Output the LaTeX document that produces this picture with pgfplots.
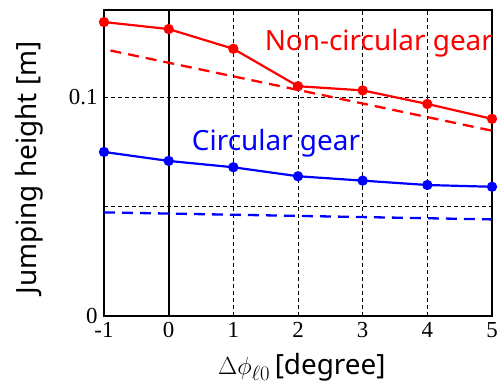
\documentclass[border=0pt]{standalone}
\usepackage{pgfplots}
\pgfplotsset{compat=1.18}
\usepackage{fontspec}
\setmainfont{Liberation Serif}
\newfontfamily\labelsans{Noto Sans}
\begin{document}
\begin{tikzpicture}
\path[use as bounding box] (-104bp,-67bp) rectangle (395bp,316bp);
\begin{axis}[
 scale only axis, width=388bp, height=306bp, at={(0,0)}, anchor=south west,
 xmin=-1, xmax=5, ymin=0, ymax=0.1397,
 xtick={-1,0,1,2,3,4,5}, xticklabels={-1,0,1,2,3,4,5},
 ytick={0,0.05,0.1}, yticklabels={0,,0.1},
 grid=major, major grid style={black, line width=0.9bp, dash pattern=on 4bp off 3bp},
 axis line style={black, line width=2.6bp},
 tick style={draw=none},
 ticklabel style={font=\fontsize{23}{23}\selectfont},
 xticklabel style={yshift=-3bp},
 yticklabel style={xshift=-3bp},
 xlabel={$\Delta\phi_{\ell 0}$\,{\labelsans[degree]}},
 ylabel={\labelsans Jumping height [m]},
 label style={font=\fontsize{28}{28}\selectfont},
 xlabel style={at={(axis description cs:0.51,-0.167)}, anchor=center},
 ylabel style={at={(axis description cs:-0.193,0.484)}, anchor=center},
 clip=false,
]
\addplot[black, line width=2.2bp] coordinates {(0,0) (0,0.1397)};
\addplot[red, line width=2.3bp, dash pattern=on 11bp off 7bp] coordinates {(-0.9,0.1212) (5,0.0846)};
\addplot[blue, line width=2.3bp, dash pattern=on 11bp off 7bp] coordinates {(-1,0.0473) (5,0.0441)};
\addplot[red, line width=2.2bp, mark=*, mark size=4bp] coordinates {
(-1,0.1342) (0,0.1310) (1,0.1220) (2,0.1049) (3,0.1030) (4,0.0968) (5,0.0900)};
\addplot[blue, line width=2.2bp, mark=*, mark size=4bp] coordinates {
(-1,0.0749) (0,0.0708) (1,0.0679) (2,0.0638) (3,0.0618) (4,0.0598) (5,0.0590)};
\node[red, font=\labelsans\fontsize{28}{28}\selectfont] at (axis cs:3.25,0.1247) {Non-circular gear};
\node[blue, font=\labelsans\fontsize{28}{28}\selectfont] at (axis cs:1.66,0.079) {Circular gear};
\end{axis}
\end{tikzpicture}
\end{document}
